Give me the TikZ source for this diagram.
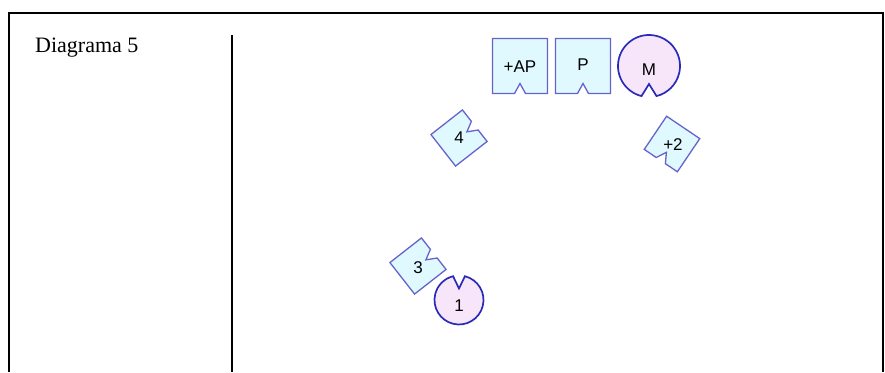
\documentclass[tikz,border=0pt]{standalone}
\usepackage{fontspec}
\setmainfont{Liberation Serif}
\newfontfamily\piecefont{Liberation Sans}
\definecolor{tilefill}{HTML}{DFF9FF}
\definecolor{tileline}{HTML}{6464CC}
\definecolor{discfill}{HTML}{F7E6FA}
\definecolor{discline}{HTML}{2A2AB8}
\tikzset{
	pics/tile/.style={code={
		\draw[draw=tileline, fill=tilefill, line width=1.3pt] (-#1,-#1) -- (#1,-#1) -- (#1,#1) -- (5.5,#1) -- (0,#1-10) -- (-5.5,#1) -- (-#1,#1) -- cycle;}},
	pics/disc/.style={code={
		\draw[draw=discline, fill=discfill, line width=1.7pt] (104:#1) arc[start angle=104, end angle=436, radius=#1] -- (0,#1-13) -- cycle;}},
	label/.style={font=\piecefont\fontsize{17}{20}\selectfont, inner sep=0pt}
}
\begin{document}
\begin{tikzpicture}[x=1pt, y=-1pt]
	\useasboundingbox (0,0) rectangle (885,372);
	% frame and divider
	\draw[line width=2pt] (9,372) -- (9,13) -- (883,13) -- (883,372);
	\draw[line width=2pt] (232,35) -- (232,372);
	\node[anchor=base west, inner sep=0pt, font=\fontsize{22}{24}\selectfont] (title) at (35,52) {Diagrama 5};
	% pieces
	\pic at (520,66) {tile=27.5};
	\pic at (583,66) {tile=27.5};
	\pic at (649,66) {disc=31};
	\pic[rotate=128] at (459,138) {tile=20};
	\pic[rotate=-34] at (672,144) {tile=20};
	\pic[rotate=128] at (418,266) {tile=20};
	\pic[rotate=180] at (459,300) {disc=24.5};
	\node[label] (ap) at (520,67) {+AP};
	\node[label] (p) at (583,65) {P};
	\node[label] (m) at (649,70) {M};
	\node[label] (four) at (459,138) {4};
	\node[label] (two) at (673,145) {+2};
	\node[label] (three) at (418,268) {3};
	\node[label] (one) at (459,306) {1};
\end{tikzpicture}
\end{document}
